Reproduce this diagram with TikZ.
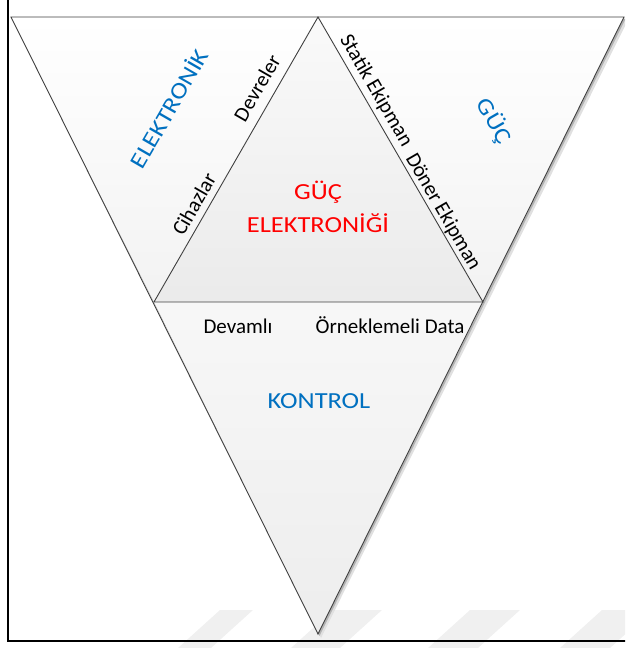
\documentclass[tikz,border=0pt]{standalone}
\usepackage{fontspec}
\setmainfont{Carlito}
\newfontfamily\widelabel{Carlito}[FakeStretch=1.15]
\definecolor{fieldblue}{HTML}{0070C0}
\definecolor{edgegray}{HTML}{404040}
\begin{document}
\begin{tikzpicture}[x=1pt,y=-1pt,
  edge/.style={draw=edgegray,line width=0.9pt,line join=miter},
  side/.style={font=\fontsize{21}{25}\selectfont,inner sep=0pt},
  field/.style={font=\widelabel\fontsize{23}{28}\selectfont,text=fieldblue,inner sep=0pt},
  core/.style={font=\widelabel\fontsize{23}{33}\selectfont,text=red,align=center,inner sep=0pt},
  ghost/.style={fill=black!6}]
\useasboundingbox (0,0) rectangle (625,648);
\clip (0,0) rectangle (625,648);
% corner points of the two triangles
\coordinate (TL) at (11,17);
\coordinate (TM) at (318,17);
\coordinate (TR) at (624,17);
\coordinate (ML) at (154,302);
\coordinate (MR) at (483,302);
\coordinate (B)  at (318,634);
% faint slanted bands along the bottom
\fill[ghost] (220,610) -- (253,610) -- (211,648) -- (178,648) -- cycle;
\fill[ghost] (333,610) -- (382,610) -- (340,648) -- (291,648) -- cycle;
\fill[ghost] (470,610) -- (520,610) -- (478,648) -- (428,648) -- cycle;
\fill[ghost] (602,610) -- (652,610) -- (610,648) -- (560,648) -- cycle;
% drop shadow of the big triangle
\fill[black!12] (14,20) -- (628,20) -- (321,638) -- cycle;
\fill[black!30] (12.5,18.5) -- (625.8,18.5) -- (319.5,636) -- cycle;
% region fills
\shade[top color=white,bottom color=black!5] (TL) -- (TM) -- (ML) -- cycle;
\shade[top color=white,bottom color=black!5] (TM) -- (TR) -- (MR) -- cycle;
\shade[top color=black!2,bottom color=black!8] (TM) -- (ML) -- (MR) -- cycle;
\shade[top color=black!3,bottom color=black!7] (ML) -- (MR) -- (B) -- cycle;
% outlines
\draw[edge] (TL) -- (TR) -- (B) -- cycle;
\draw[edge] (TM) -- (ML) -- (MR) -- cycle;
% field labels
\node[field,rotate=60]  (elek)    at (168,108) {ELEKTRONİK};
\node[field,rotate=-60] (guc)     at (494,121) {GÜÇ};
\node[field]            (kontrol) at (319,401) {KONTROL};
\node[core]             (pe)      at (318,207) {GÜÇ\\ELEKTRONİĞİ};
% labels along the inner edges
\node[side,rotate=60]  (devre)  at (257,88)  {Devreler};
\node[side,rotate=60]  (cihaz)  at (194,204) {Cihazlar};
\node[side,rotate=-60] (statik) at (376,91)  {Statik Ekipman};
\node[side,rotate=-60] (doner)  at (443,212) {Döner Ekipman};
\node[side,anchor=base] (devam) at (238,333) {Devamlı};
\node[side,anchor=base] (ornek) at (390,333) {Örneklemeli Data};
% outer frame
\draw[line width=2.5pt] (8,-5) rectangle (640,641);
\end{tikzpicture}
\end{document}
